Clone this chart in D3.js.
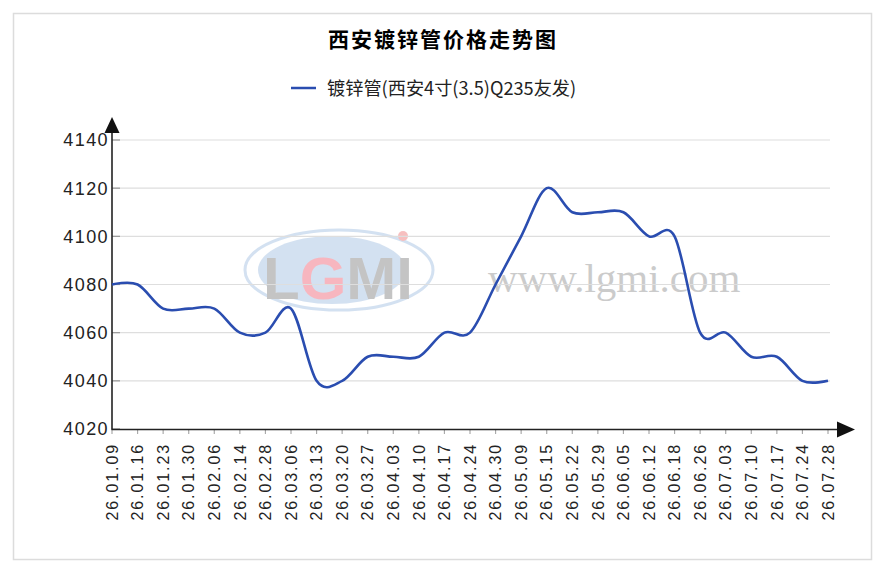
<!DOCTYPE html>
<html><head><meta charset="utf-8">
<script src="https://cdn.jsdelivr.net/npm/d3@7"></script>
<style>body{margin:0;background:#fff;}svg{display:block;}</style>
</head><body>
<svg id="chart" width="883" height="573"></svg>
<script>
const title = "西安镀锌管价格走势图";
const seriesName = "镀锌管(西安4寸(3.5)Q235友发)";
const categories = ["26.01.09","26.01.16","26.01.23","26.01.30","26.02.06","26.02.14","26.02.28","26.03.06","26.03.13","26.03.20","26.03.27","26.04.03","26.04.10","26.04.17","26.04.24","26.04.30","26.05.09","26.05.15","26.05.22","26.05.29","26.06.05","26.06.12","26.06.18","26.06.26","26.07.03","26.07.10","26.07.17","26.07.24","26.07.28"];
const prices = [4080,4080,4070,4070,4070,4060,4060,4070,4040,4040,4050,4050,4050,4060,4060,4080,4100,4120,4110,4110,4110,4100,4100,4060,4060,4050,4050,4040,4040];
const yTicks = [4020,4040,4060,4080,4100,4120,4140];

const svg = d3.select("#chart");
const x = d3.scalePoint().domain(categories).range([112, 828]);
const y = d3.scaleLinear().domain([4020, 4140]).range([429, 140]);

// frame
svg.append("rect").attr("x",13.5).attr("y",13.5).attr("width",858).attr("height",546)
  .attr("fill","#fff").attr("stroke","#dcdcdc").attr("stroke-width",1.5);

// title
svg.append("text").attr("x",443).attr("y",47).attr("text-anchor","middle")
  .attr("font-family","'Noto Sans CJK SC', sans-serif").attr("font-weight","bold")
  .attr("font-size",21).attr("letter-spacing",2).attr("fill","#000").text(title);

// legend
svg.append("line").attr("x1",291).attr("x2",316).attr("y1",88).attr("y2",88)
  .attr("stroke","#2a4db0").attr("stroke-width",2.5);
svg.append("text").attr("x",327).attr("y",88).attr("dy","0.36em")
  .attr("font-family","'Noto Sans CJK SC', sans-serif").attr("font-size",18.2)
  .attr("fill","#222").text(seriesName);

// watermark
const wm = svg.append("g").attr("opacity",0.5);
wm.append("ellipse").attr("cx",339).attr("cy",270).attr("rx",94).attr("ry",40)
  .attr("fill","none").attr("stroke","#a9c4e4").attr("stroke-width",3);
wm.append("ellipse").attr("cx",332).attr("cy",270).attr("rx",74).attr("ry",34)
  .attr("fill","#a9c4e4");
wm.append("circle").attr("cx",403).attr("cy",236).attr("r",5).attr("fill","#f08080");
const lg = wm.append("text").attr("x",263).attr("y",299)
  .attr("font-family","'Liberation Sans', Arial, sans-serif").attr("font-weight","bold")
  .attr("font-size",60).attr("fill","#8a8a8a");
lg.append("tspan").text("L");
lg.append("tspan").attr("fill","#f07080").text("G");
lg.append("tspan").text("MI");
wm.append("text").attr("x",488).attr("y",292)
  .attr("font-family","'Liberation Serif', 'DejaVu Serif', serif")
  .attr("font-size",41).attr("fill","#999").text("www.lgmi.com");

// grid
svg.append("g").selectAll("line").data(yTicks.slice(1)).join("line")
  .attr("x1",112).attr("x2",830).attr("y1",d=>y(d)).attr("y2",d=>y(d))
  .attr("stroke","#dedede").attr("stroke-width",1.2);

// y tick marks and labels
svg.append("g").selectAll("line").data(yTicks).join("line")
  .attr("x1",112).attr("x2",120).attr("y1",d=>y(d)).attr("y2",d=>y(d))
  .attr("stroke","#999").attr("stroke-width",1.2);
svg.append("g").selectAll("text").data(yTicks).join("text")
  .attr("x",109).attr("y",d=>y(d)).attr("dy","0.36em").attr("text-anchor","end")
  .attr("font-family","'Liberation Sans', Arial, sans-serif").attr("font-size",18)
  .attr("letter-spacing",1.4).attr("fill","#222").text(d=>d);

// x tick marks and labels
svg.append("g").selectAll("line").data(categories).join("line")
  .attr("x1",d=>x(d)).attr("x2",d=>x(d)).attr("y1",429).attr("y2",434)
  .attr("stroke","#aaa").attr("stroke-width",1.2);
svg.append("g").selectAll("text").data(categories).join("text")
  .attr("transform",d=>`translate(${x(d)},443) rotate(-90)`)
  .attr("dy","0.36em").attr("text-anchor","end")
  .attr("font-family","'Liberation Sans', Arial, sans-serif").attr("font-size",16)
  .attr("letter-spacing",1.9).attr("fill","#222").text(d=>d);

// axes
svg.append("line").attr("x1",112).attr("x2",112).attr("y1",429.5).attr("y2",132)
  .attr("stroke","#222").attr("stroke-width",1.6);
svg.append("path").attr("d","M112,117 L104.5,133 L119.5,133 Z").attr("fill","#111");
svg.append("line").attr("x1",111.5).attr("x2",840).attr("y1",429.5).attr("y2",429.5)
  .attr("stroke","#222").attr("stroke-width",1.6);
svg.append("path").attr("d","M855,429.5 L837,421.5 L837,437.5 Z").attr("fill","#111");

// series line
const line = d3.line().x((d,i)=>x(categories[i])).y(d=>y(d)).curve(d3.curveCardinal.tension(0));
svg.append("path").datum(prices).attr("d",line).attr("fill","none")
  .attr("stroke","#2a4db0").attr("stroke-width",2.6).attr("stroke-linejoin","round");
</script>
</body></html>
